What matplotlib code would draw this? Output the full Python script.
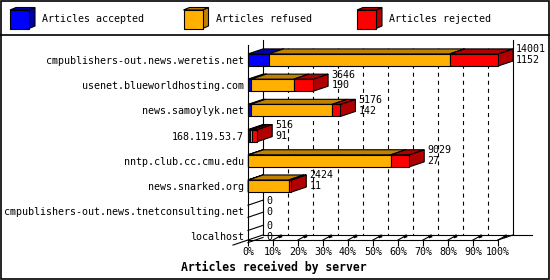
import matplotlib
matplotlib.use('Agg')
import matplotlib.pyplot as plt
from matplotlib.patches import Polygon, Rectangle

# data
servers = ['cmpublishers-out.news.weretis.net', 'usenet.blueworldhosting.com',
           'news.samoylyk.net', '168.119.53.7', 'nntp.club.cc.cmu.edu',
           'news.snarked.org', 'cmpublishers-out.news.tnetconsulting.net', 'localhost']
totals = [14001, 3646, 5176, 516, 9029, 2424, 0, 0]
accepted = [1152, 190, 142, 91, 27, 11, 0, 0]
refused = [10138, 2376, 4566, 154, 7972, 2276, 0, 0]
rejected = [2711, 1080, 468, 271, 1030, 137, 0, 0]
pct_ticks = list(range(0, 101, 10))
series = ['Articles accepted', 'Articles refused', 'Articles rejected']

front_cols = ['#0000ff', '#ffb000', '#ff0000']
dark_cols = ['#0000a8', '#c08000', '#b00000']

FONT = 'DejaVu Sans Mono'
FS = 7.2
W, H_PX = 550, 280
DX, DY, HB = 6.0, 0.2, 0.24   # depth in % and rows, half bar height
plt.rcParams['lines.scale_dashes'] = False

fig = plt.figure(figsize=(5.5, 2.8), dpi=100)
fig.patch.set_facecolor('white')

# overlay in pixel coords for frame / legend / title
bg = fig.add_axes([0, 0, 1, 1], zorder=0)
bg.set_xlim(0, W)
bg.set_ylim(H_PX, 0)
bg.axis('off')
bg.add_patch(Rectangle((0.5, 0.5), W - 1.5, H_PX - 1.5, fill=False, ec='black', lw=1.2))
bg.plot([0, W], [35, 35], color='black', lw=1.2)

for k, name in enumerate(series):
    x0 = 10 + k * 173.5
    cube_front = Rectangle((x0, 10), 19, 18.5, fc=front_cols[k], ec='black', lw=0.8)
    side = Polygon([(x0 + 19, 10), (x0 + 19, 28.5), (x0 + 25, 26), (x0 + 25, 7.5)],
                   fc=dark_cols[k], ec='black', lw=0.8)
    top = Polygon([(x0, 10), (x0 + 19, 10), (x0 + 25, 7.5), (x0 + 6, 7.5)],
                  fc=dark_cols[k], ec='black', lw=0.8)
    for p in (side, top, cube_front):
        bg.add_patch(p)
    bg.text(x0 + 32, 19.5, name, family=FONT, fontsize=FS, va='center', ha='left')

bg.text(274, 267, 'Articles received by server', family=FONT, fontsize=8.3,
        fontweight='bold', ha='center', va='center')

# main plot area: x = percent of largest total, y = row index
ax = fig.add_axes([248 / W, 1 - 240 / H_PX, 250 / W, 195 / H_PX], zorder=2)
ax.patch.set_alpha(0)
ytop, ybot = -0.595, 7.14
ax.set_xlim(0, 100)
ax.set_ylim(ybot, ytop)
for s in ('top', 'right'):
    ax.spines[s].set_visible(False)
for s in ('left', 'bottom'):
    ax.spines[s].set_linewidth(0.8)

ax.set_xticks(pct_ticks)
ax.set_xticklabels(['%d%%' % t for t in pct_ticks], family=FONT, fontsize=FS)
ax.set_yticks(range(len(servers)))
ax.set_yticklabels(servers, family=FONT, fontsize=FS)
ax.tick_params(axis='x', direction='out', length=4.3, width=0.8, pad=1)
ax.tick_params(axis='y', length=0, pad=3)

lk = dict(color='black', lw=0.8, clip_on=False)
# back wall and floor
ax.plot([DX, DX], [ytop - DY, ybot - DY], **lk)
ax.plot([100 + DX, 100 + DX], [ytop - DY, ybot - DY], **lk)
ax.plot([DX, 113.6], [ybot - DY, ybot - DY], **lk)
ax.plot([100, 100 + DX], [ybot, ybot - DY], **lk)
ax.plot([-DX, DX], [ybot + DY, ybot - DY], **lk)
for t in pct_ticks[1:-1]:
    ax.plot([t + DX, t + DX], [ytop - DY, ybot - DY], color='black', lw=0.8,
            dashes=(2.9, 2.9))
for t in pct_ticks[1:]:
    ax.plot([t, t + 2.2], [ybot, ybot - 0.12], color='black', lw=0.8, clip_on=False)
    ax.plot([t + 2.2, t + 3.6], [ybot - 0.12, ybot - 0.17], color='black', lw=2.2,
            clip_on=False, solid_capstyle='butt')

scale = 100.0 / max(totals)


def bar3d(x0, x1, y, fc, dc):
    yt, yb = y - HB, y + HB
    side = Polygon([(x1, yt), (x1, yb), (x1 + DX, yb - DY), (x1 + DX, yt - DY)],
                   fc=dc, ec='black', lw=0.8, clip_on=False, zorder=3)
    top = Polygon([(x0, yt), (x1, yt), (x1 + DX, yt - DY), (x0 + DX, yt - DY)],
                  fc=dc, ec='black', lw=0.8, clip_on=False, zorder=3)
    front = Rectangle((x0, yt), x1 - x0, 2 * HB, fc=fc, ec='black', lw=0.8,
                      clip_on=False, zorder=3)
    for p in (side, top, front):
        ax.add_patch(p)


for i in range(len(servers)):
    vals = [accepted[i], refused[i], rejected[i]]
    if totals[i] == 0:
        for yy in (i - HB, i + HB):
            ax.plot([0, DX], [yy, yy - DY], zorder=3, **lk)
    else:
        start = 0.0
        for k, v in enumerate(vals):
            if v == 0:
                continue
            end = start + v * scale
            bar3d(start, end, i, front_cols[k], dark_cols[k])
            start = end
    xe = totals[i] * scale + DX + 1.3
    ax.text(xe, i - 0.42, str(totals[i]), family=FONT, fontsize=FS,
            va='center', ha='left', zorder=4)
    ax.text(xe, i + 0.01, str(accepted[i]), family=FONT, fontsize=FS,
            va='center', ha='left', zorder=4)

fig.savefig('out.png', dpi=100)
